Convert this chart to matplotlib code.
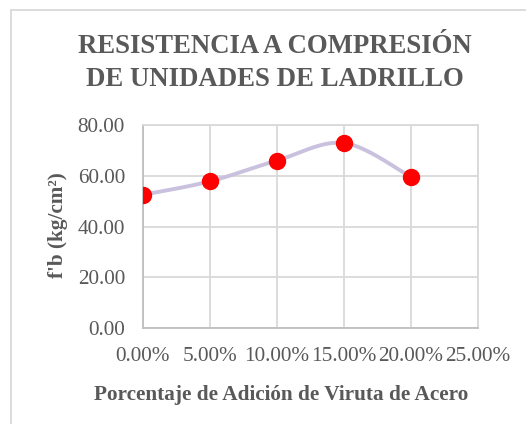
import matplotlib.pyplot as plt
import numpy as np
from matplotlib.ticker import FuncFormatter

plt.rcParams['font.family'] = ['Liberation Serif', 'DejaVu Serif']

porcentaje = [0.00, 0.05, 0.10, 0.15, 0.20]
resistencia = [52.5, 57.8, 66.0, 72.9, 59.5]
y_ticks = [0, 20, 40, 60, 80]
x_ticks = [0.00, 0.05, 0.10, 0.15, 0.20, 0.25]


def smooth_curve(x, y, n=40):
    # Excel-style smoothed line (Catmull-Rom through the points)
    x = np.asarray(x, float)
    y = np.asarray(y, float)
    px = np.concatenate([[x[0]], x, [x[-1]]])
    py = np.concatenate([[y[0]], y, [y[-1]]])
    xs, ys = [], []
    t = np.linspace(0, 1, n)
    for i in range(1, len(px) - 2):
        p0 = np.array([px[i], py[i]])
        p3 = np.array([px[i + 1], py[i + 1]])
        p1 = p0 + (np.array([px[i + 1], py[i + 1]]) - np.array([px[i - 1], py[i - 1]])) / 6
        p2 = p3 - (np.array([px[i + 2], py[i + 2]]) - np.array([px[i], py[i]])) / 6
        b = ((1 - t) ** 3)[:, None] * p0 + (3 * (1 - t) ** 2 * t)[:, None] * p1 \
            + (3 * (1 - t) * t ** 2)[:, None] * p2 + (t ** 3)[:, None] * p3
        xs.extend(b[:, 0])
        ys.extend(b[:, 1])
    return xs, ys


fig = plt.figure(figsize=(5.26, 4.24), dpi=100)
ax = fig.add_axes([143 / 526, 1 - 328 / 424, 335 / 526, 203 / 424])

sx, sy = smooth_curve(porcentaje, resistencia)
ax.plot(sx, sy, color='#c9c1de', linewidth=2.8, zorder=2)
ax.plot(porcentaje, resistencia, 'o', color='#ff0000', markersize=11.5, zorder=3)

ax.set_xlim(0, 0.25)
ax.set_ylim(0, 80)
ax.set_xticks(x_ticks)
ax.set_yticks(y_ticks)
ax.xaxis.set_major_formatter(FuncFormatter(lambda v, p: f"{v * 100:.2f}%"))
ax.yaxis.set_major_formatter(FuncFormatter(lambda v, p: f"{v:.2f}"))
ax.tick_params(length=0, labelsize=15.3, labelcolor='#595959')
ax.tick_params(axis='y', pad=13)
ax.tick_params(axis='x', pad=13.5)
ax.grid(True, color='#d9d9d9', linewidth=1.3)
ax.set_axisbelow(True)
for s in ['top', 'right']:
    ax.spines[s].set_color('#d9d9d9')
    ax.spines[s].set_linewidth(1.3)
for s in ['left', 'bottom']:
    ax.spines[s].set_color('#bfbfbf')
    ax.spines[s].set_linewidth(1.3)

fig.text(58 / 526, 1 - 225 / 424, "f'b (kg/cm²)", rotation=90, ha='center', va='center',
         fontsize=15.3, fontweight='bold', color='#595959')
fig.text(281 / 526, 1 - 395 / 424, "Porcentaje de Adición de Viruta de Acero",
         ha='center', va='center', fontsize=15.3, fontweight='bold', color='#595959')

fig.text(275 / 526, 1 - 63 / 424, "RESISTENCIA A COMPRESIÓN\nDE UNIDADES DE LADRILLO",
         ha='center', va='center', fontsize=19.3, fontweight='bold', color='#595959',
         linespacing=1.37)

# chart frame
fig.add_artist(plt.Rectangle((11 / 526, -0.1), 1.2, 1 - 10 / 424 + 0.1, transform=fig.transFigure,
                             fill=False, edgecolor='#d9d9d9', linewidth=1.3))

fig.savefig("out.png", dpi=100)
